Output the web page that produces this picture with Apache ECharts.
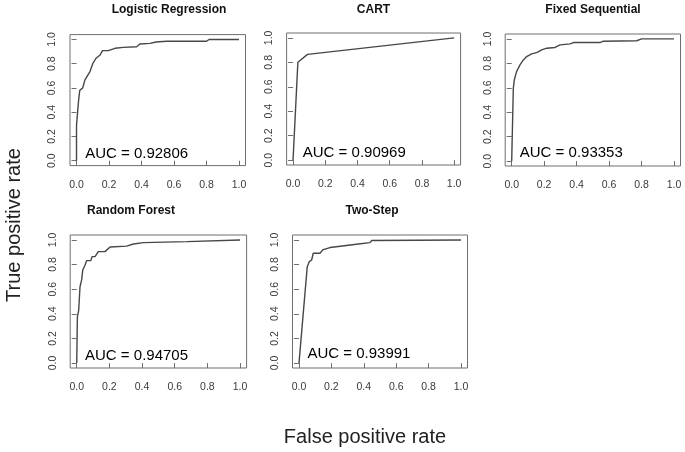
<!DOCTYPE html>
<html>
<head>
<meta charset="utf-8">
<script src="https://cdn.jsdelivr.net/npm/echarts@6/dist/echarts.min.js"></script>
<style>
html,body{margin:0;padding:0;background:#fff;}
#chart{width:685px;height:452px;}
</style>
</head>
<body>
<div id="chart"></div>
<script>
// ---- data ----
const tickValues = [0, 0.2, 0.4, 0.6, 0.8, 1.0];
const titles = ['Logistic Regression', 'CART', 'Fixed Sequential', 'Random Forest', 'Two-Step'];
const aucValues = ['0.92806', '0.90969', '0.93353', '0.94705', '0.93991'];
const xAxisTitle = 'False positive rate';
const yAxisTitle = 'True positive rate';

const lrFpr = [0, 0, 0.013, 0.02, 0.038, 0.052, 0.062, 0.083, 0.10, 0.12, 0.145, 0.16, 0.196, 0.237, 0.288, 0.37, 0.39, 0.452, 0.49, 0.555, 0.80, 0.816, 1.0];
const lrTpr = [0, 0.29, 0.50, 0.58, 0.60, 0.667, 0.69, 0.735, 0.80, 0.845, 0.872, 0.908, 0.908, 0.927, 0.935, 0.94, 0.963, 0.968, 0.979, 0.985, 0.985, 1.0, 1.0];

const cartFpr = [0, 0.03, 0.09, 1.0];
const cartTpr = [0, 0.80, 0.865, 1.0];

const fsFpr = [0, 0.01, 0.016, 0.03, 0.051, 0.072, 0.092, 0.123, 0.154, 0.185, 0.216, 0.267, 0.298, 0.36, 0.38, 0.544, 0.565, 0.77, 0.80, 1.0];
const fsTpr = [0, 0.596, 0.664, 0.732, 0.787, 0.828, 0.855, 0.877, 0.888, 0.91, 0.924, 0.93, 0.951, 0.959, 0.97, 0.97, 0.981, 0.985, 1.0, 1.0];

const rfFpr = [0, 0.004, 0.012, 0.02, 0.03, 0.037, 0.051, 0.061, 0.086, 0.094, 0.112, 0.132, 0.173, 0.184, 0.204, 0.306, 0.347, 0.408, 0.674, 1.0];
const rfTpr = [0, 0.376, 0.43, 0.62, 0.675, 0.756, 0.797, 0.832, 0.832, 0.864, 0.864, 0.905, 0.905, 0.916, 0.943, 0.95, 0.967, 0.978, 0.986, 1.0];

const tsFpr = [0, 0.051, 0.064, 0.078, 0.088, 0.13, 0.146, 0.191, 0.243, 0.253, 0.366, 0.377, 0.438, 0.449, 1.0];
const tsTpr = [0, 0.783, 0.824, 0.837, 0.892, 0.892, 0.919, 0.938, 0.947, 0.959, 0.967, 0.978, 0.978, 0.995, 1.0];

const fprSets = [lrFpr, cartFpr, fsFpr, rfFpr, tsFpr];
const tprSets = [lrTpr, cartTpr, fsTpr, rfTpr, tsTpr];

// ---- layout (pixels) ----
const grids = [
  {left: 70, top: 34.6, width: 175.5, height: 131},
  {left: 286.6, top: 33, width: 174, height: 132},
  {left: 505.2, top: 34, width: 175.3, height: 132},
  {left: 70.2, top: 235, width: 176.4, height: 133},
  {left: 292.5, top: 235, width: 175, height: 133}
];
const titlePos = [[169, 10], [373.5, 10], [593, 10], [131, 211], [372, 211]];
const aucPos = [[0.37, 0.055], [0.38, 0.06], [0.367, 0.07], [0.366, 0.057], [0.37, 0.073]];

const FONT = '"Liberation Sans", Arial, Helvetica, sans-serif';
const pad = 0.04;

const option = {
  animation: false,
  backgroundColor: '#ffffff',
  grid: [], xAxis: [], yAxis: [], series: [], graphic: []
};

function makeAxis(i, isY) {
  return {
    type: 'value', gridIndex: i, min: -pad, max: 1 + pad,
    axisLine: {show: false},
    splitLine: {show: false},
    axisTick: {show: true, inside: false, length: 5, customValues: tickValues, lineStyle: {color: '#6e6e6e', width: 1}},
    axisLabel: {show: true, customValues: tickValues, margin: isY ? 12 : 14, fontSize: 10.5, color: '#3a3a3a', fontFamily: FONT,
      rotate: isY ? 90 : 0, formatter: v => v.toFixed(1)}
  };
}

grids.forEach((g, i) => {
  option.grid.push(Object.assign({show: true, borderColor: '#6e6e6e', borderWidth: 1, backgroundColor: 'transparent', containLabel: false}, g));
  option.xAxis.push(makeAxis(i, false));
  option.yAxis.push(makeAxis(i, true));

  option.series.push({
    type: 'line', xAxisIndex: i, yAxisIndex: i, showSymbol: false, symbol: 'none',
    lineStyle: {color: '#474747', width: 1.4}, silent: true,
    data: fprSets[i].map((x, k) => [x, tprSets[i][k]])
  });
  option.series.push({
    type: 'scatter', xAxisIndex: i, yAxisIndex: i, symbolSize: 1, silent: true,
    itemStyle: {color: '#ffffff', opacity: 1},
    label: {show: true, position: 'inside', formatter: 'AUC = ' + aucValues[i], fontSize: 15, color: '#000000', opacity: 1, fontFamily: FONT},
    data: [aucPos[i]]
  });
  option.graphic.push({
    type: 'text', x: titlePos[i][0], y: titlePos[i][1],
    style: {text: titles[i], fontSize: 12, fontWeight: 'bold', fill: '#111', fontFamily: FONT, textAlign: 'center', textVerticalAlign: 'middle'}
  });
});

option.graphic.push({
  type: 'text', x: 365, y: 437,
  style: {text: xAxisTitle, fontSize: 20, fill: '#222', fontFamily: FONT, textAlign: 'center', textVerticalAlign: 'middle'}
});
option.graphic.push({
  type: 'text', x: 14, y: 225, rotation: Math.PI / 2,
  style: {text: yAxisTitle, fontSize: 20, fill: '#222', fontFamily: FONT, textAlign: 'center', textVerticalAlign: 'middle'}
});

const chart = echarts.init(document.getElementById('chart'), null, {renderer: 'canvas'});
chart.setOption(option);
</script>
</body>
</html>
